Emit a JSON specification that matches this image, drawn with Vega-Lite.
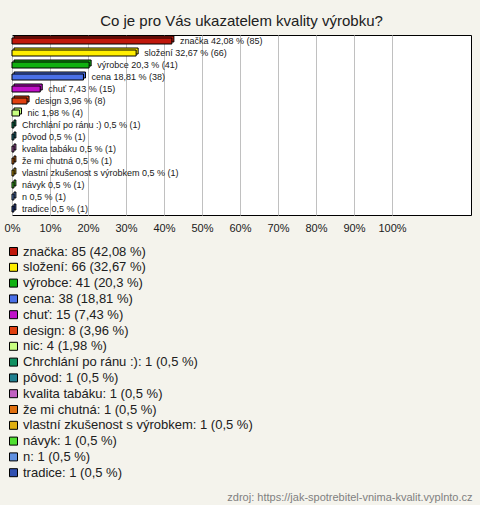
{
  "$schema": "https://vega.github.io/schema/vega-lite/v6.json",
  "autosize": "none",
  "width": 459,
  "height": 180,
  "padding": {"left": 12, "top": 35, "right": 9, "bottom": 290},
  "background": "#f4f3ec",
  "title": {"text": "Co je pro Vás ukazatelem kvality výrobku?", "font": "Liberation Sans", "fontSize": 15, "fontWeight": "normal", "color": "#202020", "anchor": "middle", "offset": 6},
  "data": {"values": [
    {"cat": "značka", "n": 85, "pct": 0.4208, "label": "značka 42,08 % (85)", "legend": "značka: 85 (42,08 %)", "order": 1},
    {"cat": "složení", "n": 66, "pct": 0.3267, "label": "složení 32,67 % (66)", "legend": "složení: 66 (32,67 %)", "order": 2},
    {"cat": "výrobce", "n": 41, "pct": 0.203, "label": "výrobce 20,3 % (41)", "legend": "výrobce: 41 (20,3 %)", "order": 3},
    {"cat": "cena", "n": 38, "pct": 0.1881, "label": "cena 18,81 % (38)", "legend": "cena: 38 (18,81 %)", "order": 4},
    {"cat": "chuť", "n": 15, "pct": 0.0743, "label": "chuť 7,43 % (15)", "legend": "chuť: 15 (7,43 %)", "order": 5},
    {"cat": "design", "n": 8, "pct": 0.0396, "label": "design 3,96 % (8)", "legend": "design: 8 (3,96 %)", "order": 6},
    {"cat": "nic", "n": 4, "pct": 0.0198, "label": "nic 1,98 % (4)", "legend": "nic: 4 (1,98 %)", "order": 7},
    {"cat": "Chrchlání po ránu :)", "n": 1, "pct": 0.005, "label": "Chrchlání po ránu :) 0,5 % (1)", "legend": "Chrchlání po ránu :): 1 (0,5 %)", "order": 8},
    {"cat": "pôvod", "n": 1, "pct": 0.005, "label": "pôvod 0,5 % (1)", "legend": "pôvod: 1 (0,5 %)", "order": 9},
    {"cat": "kvalita tabáku", "n": 1, "pct": 0.005, "label": "kvalita tabáku 0,5 % (1)", "legend": "kvalita tabáku: 1 (0,5 %)", "order": 10},
    {"cat": "že mi chutná", "n": 1, "pct": 0.005, "label": "že mi chutná 0,5 % (1)", "legend": "že mi chutná: 1 (0,5 %)", "order": 11},
    {"cat": "vlastní zkušenost s výrobkem", "n": 1, "pct": 0.005, "label": "vlastní zkušenost s výrobkem 0,5 % (1)", "legend": "vlastní zkušenost s výrobkem: 1 (0,5 %)", "order": 12},
    {"cat": "návyk", "n": 1, "pct": 0.005, "label": "návyk 0,5 % (1)", "legend": "návyk: 1 (0,5 %)", "order": 13},
    {"cat": "n", "n": 1, "pct": 0.005, "label": "n 0,5 % (1)", "legend": "n: 1 (0,5 %)", "order": 14},
    {"cat": "tradice", "n": 1, "pct": 0.005, "label": "tradice 0,5 % (1)", "legend": "tradice: 1 (0,5 %)", "order": 15}
  ]},
  "encoding": {
    "y": {"field": "cat", "type": "nominal", "sort": {"field": "order"}, "axis": null, "scale": {"paddingInner": 0, "paddingOuter": 0}},
    "x": {"field": "pct", "type": "quantitative", "scale": {"domain": [0, 1.208], "nice": false},
      "axis": {"values": [0, 0.1, 0.2, 0.3, 0.4, 0.5, 0.6, 0.7, 0.8, 0.9, 1.0], "format": ".0%", "grid": true, "gridColor": "#c0c0c0", "gridWidth": 1, "domain": false, "ticks": false, "labelPadding": 7, "labelFont": "Liberation Sans", "labelFontSize": 11, "labelColor": "#202020", "labelFlush": false,
        "title": "zdroj: https://jak-spotrebitel-vnima-kvalit.vyplnto.cz", "titleFont": "Liberation Sans", "titleFontSize": 11, "titleFontWeight": "normal", "titleColor": "#808080", "titleAnchor": "end", "titleAlign": "right", "titleX": 460, "titleY": 282, "titleBaseline": "middle"}},
    "color": {"field": "legend", "type": "nominal", "sort": {"field": "order"},
      "scale": {"range": ["#c0180c", "#ffee00", "#10b010", "#4a70e8", "#c010c8", "#e04010", "#c8ff80", "#109060", "#208090", "#c060c0", "#e07010", "#e0b010", "#50e030", "#6090e0", "#3050b0"]},
      "legend": {"title": null, "orient": "none", "legendX": -5, "legendY": 210, "symbolType": "square", "symbolSize": 64, "symbolStrokeColor": "#000000", "symbolStrokeWidth": 1, "symbolOpacity": 1, "labelFont": "Liberation Sans", "labelFontSize": 13, "labelColor": "#202020", "labelLimit": 400, "labelOffset": 3, "rowPadding": 1.8, "padding": 0}}
  },
  "layer": [
    {"mark": {"type": "bar", "size": 6, "xOffset": 2, "yOffset": -2, "stroke": "#000000", "strokeWidth": 1, "opacity": 1}},
    {"mark": {"type": "bar", "size": 6, "stroke": "#000000", "strokeWidth": 1, "opacity": 1}},
    {"mark": {"type": "text", "align": "left", "baseline": "middle", "dx": 8, "font": "Liberation Sans", "fontSize": 9},
     "encoding": {"text": {"field": "label"}, "color": {"value": "#202020"}}}
  ],
  "config": {"view": {"stroke": "#000000", "strokeWidth": 1, "fill": "#ffffff"}}
}
